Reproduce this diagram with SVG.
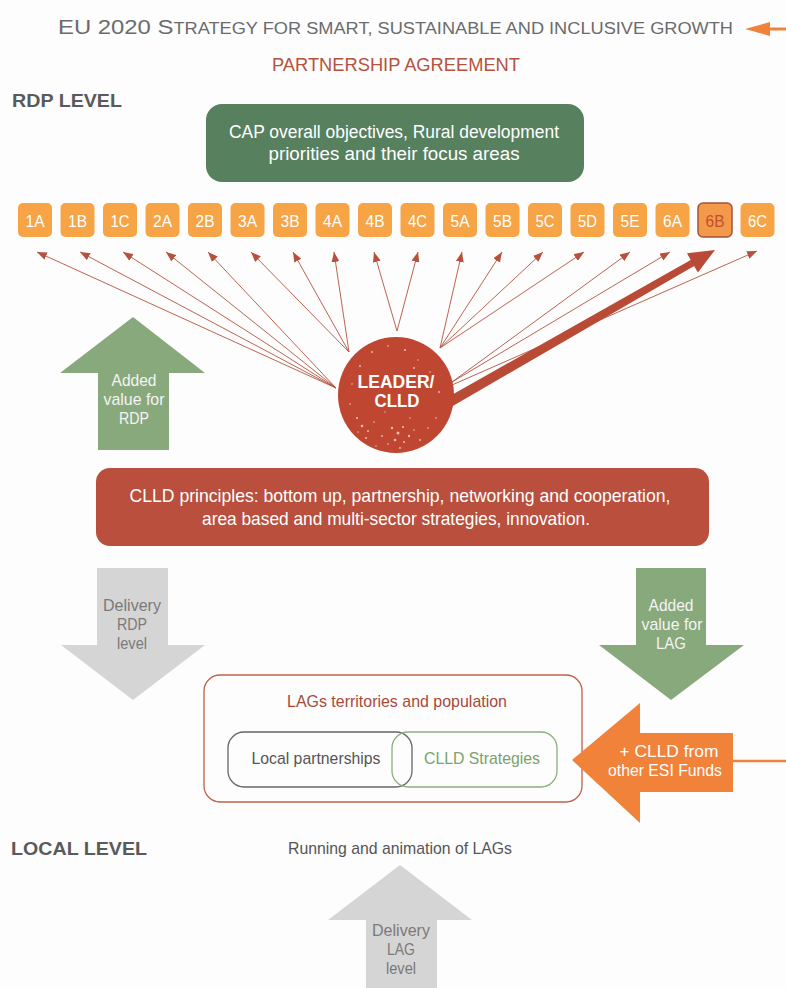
<svg xmlns="http://www.w3.org/2000/svg" width="786" height="988" viewBox="0 0 786 988">
  <defs>
    <style>
      .f { font-family: "Liberation Sans", Arial, sans-serif; }
      .b { font-weight: bold; }
      .mid { text-anchor: middle; }
      .fa { fill: #f6a446; }
      .fa-t { fill: #ffffff; font-size: 17px; }
      .link { stroke: #b5513c; stroke-width: 0.9; fill: none; marker-end: url(#head); }
      .speck { fill: #ffffff; opacity: 0.65; }
      .lbl { font-size: 17px; }
    </style>
    <marker id="head" markerUnits="userSpaceOnUse" markerWidth="10" markerHeight="8" refX="10" refY="4" orient="auto">
      <path d="M0,0 L10,4 L0,8 z" fill="#b5513c"/>
    </marker>
  </defs>

  <rect width="786" height="988" fill="#fdfdfd"/>

  <!-- Headings -->
  <g id="title">
    <text class="f" x="58" y="34" font-size="21" fill="#6b6b6b" textLength="675" lengthAdjust="spacingAndGlyphs">EU 2020 S<tspan font-size="16">TRATEGY FOR SMART, SUSTAINABLE AND INCLUSIVE GROWTH</tspan></text>
    <line x1="766" y1="29" x2="786" y2="29" stroke="#f0823a" stroke-width="3"/>
    <polygon points="745,29 770,22 770,36" fill="#f0823a"/>
  </g>
  <g id="partnership">
    <text class="f mid" x="396" y="71" font-size="18.5" fill="#b4533e" textLength="248" lengthAdjust="spacingAndGlyphs">PARTNERSHIP AGREEMENT</text>
  </g>
  <g id="rdp-level">
    <text class="f b" x="12" y="107" font-size="18.5" fill="#5a5a5a" textLength="110" lengthAdjust="spacingAndGlyphs">RDP LEVEL</text>
  </g>

  <!-- CAP objectives -->
  <g id="cap-objectives">
    <rect x="206" y="104" width="378" height="78" rx="16" fill="#57805f"/>
    <text class="f mid" x="394" y="138" font-size="18" fill="#ffffff" textLength="330" lengthAdjust="spacingAndGlyphs">CAP overall objectives, Rural development</text>
    <text class="f mid" x="394" y="160" font-size="18" fill="#ffffff" textLength="251" lengthAdjust="spacingAndGlyphs">priorities and their focus areas</text>
  </g>

  <!-- Focus areas -->
  <g id="fa-1A"><rect class="fa" x="18" y="203" width="34" height="34" rx="5"/><text class="f mid fa-t" x="35" y="226.5" textLength="19" lengthAdjust="spacingAndGlyphs">1A</text></g>
  <g id="fa-1B"><rect class="fa" x="60.5" y="203" width="34" height="34" rx="5"/><text class="f mid fa-t" x="77.5" y="226.5" textLength="19" lengthAdjust="spacingAndGlyphs">1B</text></g>
  <g id="fa-1C"><rect class="fa" x="103" y="203" width="34" height="34" rx="5"/><text class="f mid fa-t" x="120" y="226.5" textLength="19" lengthAdjust="spacingAndGlyphs">1C</text></g>
  <g id="fa-2A"><rect class="fa" x="145.5" y="203" width="34" height="34" rx="5"/><text class="f mid fa-t" x="162.5" y="226.5" textLength="19" lengthAdjust="spacingAndGlyphs">2A</text></g>
  <g id="fa-2B"><rect class="fa" x="188" y="203" width="34" height="34" rx="5"/><text class="f mid fa-t" x="205" y="226.5" textLength="19" lengthAdjust="spacingAndGlyphs">2B</text></g>
  <g id="fa-3A"><rect class="fa" x="230.5" y="203" width="34" height="34" rx="5"/><text class="f mid fa-t" x="247.5" y="226.5" textLength="19" lengthAdjust="spacingAndGlyphs">3A</text></g>
  <g id="fa-3B"><rect class="fa" x="273" y="203" width="34" height="34" rx="5"/><text class="f mid fa-t" x="290" y="226.5" textLength="19" lengthAdjust="spacingAndGlyphs">3B</text></g>
  <g id="fa-4A"><rect class="fa" x="315.5" y="203" width="34" height="34" rx="5"/><text class="f mid fa-t" x="332.5" y="226.5" textLength="19" lengthAdjust="spacingAndGlyphs">4A</text></g>
  <g id="fa-4B"><rect class="fa" x="358" y="203" width="34" height="34" rx="5"/><text class="f mid fa-t" x="375" y="226.5" textLength="19" lengthAdjust="spacingAndGlyphs">4B</text></g>
  <g id="fa-4C"><rect class="fa" x="400.5" y="203" width="34" height="34" rx="5"/><text class="f mid fa-t" x="417.5" y="226.5" textLength="19" lengthAdjust="spacingAndGlyphs">4C</text></g>
  <g id="fa-5A"><rect class="fa" x="443" y="203" width="34" height="34" rx="5"/><text class="f mid fa-t" x="460" y="226.5" textLength="19" lengthAdjust="spacingAndGlyphs">5A</text></g>
  <g id="fa-5B"><rect class="fa" x="485.5" y="203" width="34" height="34" rx="5"/><text class="f mid fa-t" x="502.5" y="226.5" textLength="19" lengthAdjust="spacingAndGlyphs">5B</text></g>
  <g id="fa-5C"><rect class="fa" x="528" y="203" width="34" height="34" rx="5"/><text class="f mid fa-t" x="545" y="226.5" textLength="19" lengthAdjust="spacingAndGlyphs">5C</text></g>
  <g id="fa-5D"><rect class="fa" x="570.5" y="203" width="34" height="34" rx="5"/><text class="f mid fa-t" x="587.5" y="226.5" textLength="19" lengthAdjust="spacingAndGlyphs">5D</text></g>
  <g id="fa-5E"><rect class="fa" x="613" y="203" width="34" height="34" rx="5"/><text class="f mid fa-t" x="630" y="226.5" textLength="19" lengthAdjust="spacingAndGlyphs">5E</text></g>
  <g id="fa-6A"><rect class="fa" x="655.5" y="203" width="34" height="34" rx="5"/><text class="f mid fa-t" x="672.5" y="226.5" textLength="19" lengthAdjust="spacingAndGlyphs">6A</text></g>
  <g id="fa-6B"><rect x="698" y="203" width="34" height="34" rx="5" fill="#f39a4a" stroke="#a8503a" stroke-width="1.5"/><text class="f mid" x="715" y="226.5" font-size="17" fill="#c0502e" textLength="19" lengthAdjust="spacingAndGlyphs">6B</text></g>
  <g id="fa-6C"><rect class="fa" x="740.5" y="203" width="34" height="34" rx="5"/><text class="f mid fa-t" x="757.5" y="226.5" textLength="19" lengthAdjust="spacingAndGlyphs">6C</text></g>

  <!-- Links from LEADER/CLLD to the focus areas -->
  <g id="connectors">
    <line class="link" x1="336" y1="388" x2="37" y2="252"/>
    <line class="link" x1="336" y1="388" x2="80" y2="252"/>
    <line class="link" x1="336" y1="388" x2="123" y2="252"/>
    <line class="link" x1="336" y1="388" x2="166" y2="252"/>
    <line class="link" x1="336" y1="388" x2="208" y2="252"/>
    <line class="link" x1="349" y1="352" x2="251" y2="252"/>
    <line class="link" x1="349" y1="352" x2="293" y2="252"/>
    <line class="link" x1="349" y1="352" x2="334" y2="252"/>
    <line class="link" x1="397" y1="331" x2="374" y2="252"/>
    <line class="link" x1="397" y1="331" x2="418" y2="252"/>
    <line class="link" x1="440" y1="348" x2="462" y2="252"/>
    <line class="link" x1="440" y1="348" x2="502" y2="252"/>
    <line class="link" x1="440" y1="348" x2="543" y2="252"/>
    <line class="link" x1="440" y1="348" x2="584" y2="252"/>
    <line class="link" x1="452" y1="382" x2="630" y2="252"/>
    <line class="link" x1="452" y1="382" x2="670" y2="252"/>
    <line class="link" x1="452" y1="385" x2="757" y2="251"/>
    <!-- main emphasis towards 6B -->
    <polygon points="442.5,412 694.1,265.9 697.9,272.4 715,250 687,253.3 690.7,259.9 437.5,403" fill="#b94a35"/>
  </g>

  <!-- LEADER / CLLD -->
  <g id="leader-clld">
    <circle cx="396" cy="395" r="58" fill="#bf4731"/>
    <g class="speck">
      <circle cx="372" cy="352" r="0.9"/><circle cx="388" cy="346" r="0.8"/><circle cx="405" cy="350" r="1"/>
      <circle cx="418" cy="360" r="0.8"/><circle cx="360" cy="366" r="0.9"/><circle cx="430" cy="372" r="0.8"/>
      <circle cx="414" cy="368" r="0.9"/><circle cx="352" cy="384" r="0.8"/><circle cx="439" cy="392" r="0.9"/>
      <circle cx="357" cy="418" r="1.1"/><circle cx="362" cy="426" r="1.3"/><circle cx="368" cy="431" r="0.9"/>
      <circle cx="374" cy="422" r="0.8"/><circle cx="366" cy="438" r="1"/><circle cx="358" cy="432" r="0.8"/>
      <circle cx="392" cy="428" r="1.2"/><circle cx="398" cy="433" r="1.5"/><circle cx="403" cy="427" r="1.1"/>
      <circle cx="395" cy="440" r="1.3"/><circle cx="404" cy="442" r="1"/><circle cx="409" cy="436" r="1.2"/>
      <circle cx="400" cy="448" r="0.9"/><circle cx="388" cy="444" r="0.8"/><circle cx="414" cy="430" r="0.8"/>
      <circle cx="420" cy="440" r="0.9"/><circle cx="428" cy="428" r="0.8"/><circle cx="382" cy="436" r="0.9"/>
      <circle cx="376" cy="446" r="0.8"/><circle cx="436" cy="418" r="0.8"/><circle cx="350" cy="404" r="0.8"/>
      <circle cx="410" cy="418" r="0.7"/><circle cx="385" cy="412" r="0.7"/>
    </g>
    <text class="f b mid" x="396" y="388" font-size="18.5" fill="#ffffff" textLength="77" lengthAdjust="spacingAndGlyphs">LEADER/</text>
    <text class="f b mid" x="397" y="407" font-size="18.5" fill="#ffffff" textLength="45" lengthAdjust="spacingAndGlyphs">CLLD</text>
  </g>

  <!-- Added value for RDP -->
  <g id="added-value-rdp">
    <polygon points="133,317 205,373 169,373 169,450 98,450 98,373 60,373" fill="#88a97c"/>
    <text class="f mid lbl" x="134" y="386" fill="#f4f4f4" textLength="45" lengthAdjust="spacingAndGlyphs">Added</text>
    <text class="f mid lbl" x="134" y="405" fill="#f4f4f4" textLength="61" lengthAdjust="spacingAndGlyphs">value for</text>
    <text class="f mid lbl" x="134" y="424" fill="#f4f4f4" textLength="30" lengthAdjust="spacingAndGlyphs">RDP</text>
  </g>

  <!-- CLLD principles -->
  <g id="clld-principles">
    <rect x="96" y="468" width="613" height="78" rx="14" fill="#b94f3c"/>
    <text class="f mid" x="400" y="502" font-size="18.5" fill="#ffffff" textLength="541" lengthAdjust="spacingAndGlyphs">CLLD principles: bottom up, partnership, networking and cooperation,</text>
    <text class="f mid" x="396" y="525" font-size="18.5" fill="#ffffff" textLength="388" lengthAdjust="spacingAndGlyphs">area based and multi-sector strategies, innovation.</text>
  </g>

  <!-- Delivery RDP level -->
  <g id="delivery-rdp">
    <polygon points="97,568 168,568 168,645 205,645 133,700 61,645 97,645" fill="#d5d5d5"/>
    <text class="f mid lbl" x="132" y="611" fill="#7a7a7a" textLength="58" lengthAdjust="spacingAndGlyphs">Delivery</text>
    <text class="f mid lbl" x="132" y="630" fill="#7a7a7a" textLength="30" lengthAdjust="spacingAndGlyphs">RDP</text>
    <text class="f mid lbl" x="132" y="649" fill="#7a7a7a" textLength="30" lengthAdjust="spacingAndGlyphs">level</text>
  </g>

  <!-- Added value for LAG -->
  <g id="added-value-lag">
    <polygon points="636,568 706,568 706,645 744,645 671,700 599,645 636,645" fill="#88a97c"/>
    <text class="f mid lbl" x="671" y="611" fill="#f4f4f4" textLength="45" lengthAdjust="spacingAndGlyphs">Added</text>
    <text class="f mid lbl" x="672" y="630" fill="#f4f4f4" textLength="61" lengthAdjust="spacingAndGlyphs">value for</text>
    <text class="f mid lbl" x="671" y="649" fill="#f4f4f4" textLength="30" lengthAdjust="spacingAndGlyphs">LAG</text>
  </g>

  <!-- LAGs territories -->
  <g id="lag-territories">
    <rect x="204" y="675" width="378" height="127" rx="16" fill="none" stroke="#c0604a" stroke-width="1.3"/>
    <text class="f mid lbl" x="397" y="707" fill="#a54a3a" textLength="220" lengthAdjust="spacingAndGlyphs">LAGs territories and population</text>
  </g>
  <g id="local-partnerships">
    <rect x="228" y="732" width="184" height="55" rx="16" fill="none" stroke="#666666" stroke-width="1.3"/>
    <text class="f mid lbl" x="316" y="764" fill="#555555" textLength="129" lengthAdjust="spacingAndGlyphs">Local partnerships</text>
  </g>
  <g id="clld-strategies">
    <rect x="392" y="732" width="165" height="55" rx="16" fill="none" stroke="#8ab07c" stroke-width="1.3"/>
    <text class="f mid lbl" x="482" y="764" fill="#7aa26c" textLength="116" lengthAdjust="spacingAndGlyphs">CLLD Strategies</text>
  </g>

  <!-- Other ESI Funds -->
  <g id="other-esi-funds">
    <line x1="730" y1="761" x2="786" y2="761" stroke="#f0823a" stroke-width="2.5"/>
    <polygon points="572,760 640,703 640,733 733,733 733,792 640,792 640,823" fill="#f0823a"/>
    <text class="f mid lbl" x="669" y="757" fill="#ffffff" textLength="99" lengthAdjust="spacingAndGlyphs">+ CLLD from</text>
    <text class="f mid lbl" x="665" y="776" fill="#ffffff" textLength="114" lengthAdjust="spacingAndGlyphs">other ESI Funds</text>
  </g>

  <!-- Local level -->
  <g id="local-level">
    <text class="f b" x="11" y="855" font-size="18.5" fill="#5a5a5a" textLength="136" lengthAdjust="spacingAndGlyphs">LOCAL LEVEL</text>
  </g>
  <g id="running-lags">
    <text class="f mid lbl" x="400" y="854" fill="#555555" textLength="224" lengthAdjust="spacingAndGlyphs">Running and animation of LAGs</text>
  </g>
  <g id="delivery-lag">
    <polygon points="400,865 472,920 437,920 437,988 366,988 366,920 328,920" fill="#d5d5d5"/>
    <text class="f mid lbl" x="401" y="936" fill="#7a7a7a" textLength="58" lengthAdjust="spacingAndGlyphs">Delivery</text>
    <text class="f mid lbl" x="401" y="955" fill="#7a7a7a" textLength="28" lengthAdjust="spacingAndGlyphs">LAG</text>
    <text class="f mid lbl" x="401" y="974" fill="#7a7a7a" textLength="30" lengthAdjust="spacingAndGlyphs">level</text>
  </g>
</svg>
